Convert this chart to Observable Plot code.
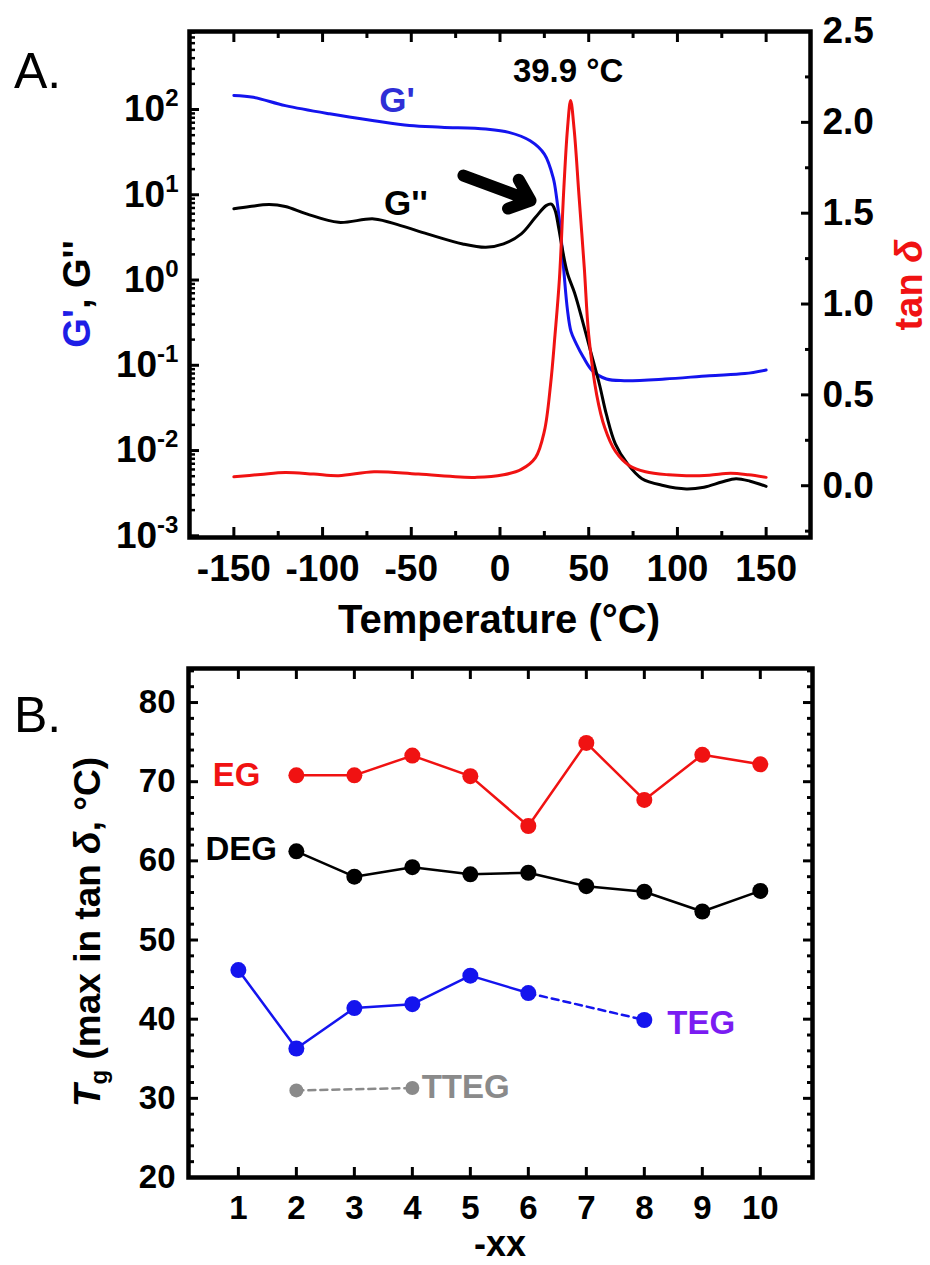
<!DOCTYPE html>
<html><head><meta charset="utf-8">
<script src="https://cdn.jsdelivr.net/npm/d3@7"></script>
<script src="https://cdn.jsdelivr.net/npm/@observablehq/plot@0.6"></script>
<style>
body{margin:0;background:#fff;}
#wrap{position:relative;width:930px;height:1265px;overflow:hidden;background:#fff;font-family:"Liberation Sans",Arial,sans-serif;}
.layer{position:absolute;left:0;}
.layer svg{display:block;}
</style></head><body><div id="wrap"></div>
<script>
// ---------- Panel A data ----------
const gpT  = [-150,-139,-121,-96,-71,-51,-33,-8,5,17,25,30,32,34,36,38,40,43,47,52,60,70,93,118,138,150];
const gpV  = [146,139,111,89,74,65,62,59,54,43,30,15.8,8.9,4.0,1.26,0.45,0.25,0.178,0.124,0.0865,0.069,0.066,0.069,0.0755,0.080,0.088];
const gppT = [-150,-141,-130,-121,-109,-91,-71,-56,-41,-21,-8,2,12,20,26,29,31,33,35,38,42,46,51,56,60,65,72,80,92,105,115,125,133,141,150];
const gppV = [6.84,7.28,7.67,7.28,5.97,4.75,5.21,4.35,3.48,2.65,2.42,2.65,3.48,5.44,7.46,7.76,6.61,4.17,2.40,1.20,0.708,0.363,0.148,0.0603,0.0263,0.0120,0.00692,0.00468,0.00389,0.00355,0.00372,0.00427,0.00468,0.00437,0.00380];
const tanT = [-150,-135,-121,-105,-91,-71,-46,-13,2,12,20,25,28.5,31,33.5,36,38,39.8,41.8,44.5,47.5,50,54.5,59,65,73,82,95,105,118,130,140,150];
const tanV = [0.049,0.062,0.073,0.064,0.055,0.077,0.064,0.046,0.06,0.09,0.155,0.30,0.557,0.83,1.14,1.64,1.96,2.12,1.96,1.6,1.2,0.83,0.5,0.32,0.19,0.11,0.077,0.06,0.055,0.058,0.068,0.06,0.046];
const tempTicks = [-150,-100,-50,0,50,100,150];
const tempMinor = [-125,-75,-25,25,75,125];
const modTicks = [1e-3,1e-2,1e-1,1,10,100];
const tanTicks = [0,0.5,1.0,1.5,2.0,2.5];
const tanMinor = [-0.25,0.25,0.75,1.25,1.75,2.25];
const peakLabel = ["39.9 °C"]; const peakT = [38.4]; const peakG = [279];
const arrowT = [-20.6, 17.2]; const arrowG = [16.8, 8.55];
const gpLabel = {t:-58, g:128, s:"G'"};
const gppLabel = {t:-53, g:7.9, s:"G''"};

// ---------- Panel B data ----------
const egX  = [2,3,4,5,6,7,8,9,10];
const egY  = [70.8,70.8,73.3,70.7,64.4,74.9,67.7,73.4,72.2];
const degX = [2,3,4,5,6,7,8,9,10];
const degY = [61.2,58.0,59.2,58.3,58.5,56.8,56.1,53.6,56.2];
const tegX = [1,2,3,4,5,6,8];
const tegY = [46.2,36.3,41.4,41.9,45.5,43.3,39.9];
const ttegX = [2,4];
const ttegY = [31.0,31.3];
const xxTicks = [1,2,3,4,5,6,7,8,9,10];
const tgTicks = [20,30,40,50,60,70,80];
const seriesNames = ["EG","DEG","TEG","TTEG"];
const seriesLabelX = [0.97,1.05,8.98,4.16];
const seriesLabelY = [70.8,61.4,39.5,31.4];

const FONT = '"Liberation Sans", Arial, sans-serif';
const RED = "#f01212", BLUE = "#1414ee", BLK = "#000", GRAY = "#8a8a8a", PURPLE = "#7a1cf2";
const wrap = document.getElementById("wrap");
function layer(top){const d=document.createElement("div");d.className="layer";d.style.top=top+"px";wrap.appendChild(d);return d;}

const rows = (xs, ys) => xs.map((x,i)=>({x, y: ys[i]}));
const gp = rows(gpT,gpV), gpp = rows(gppT,gppV), tan = rows(tanT,tanV);

// log minor ticks
const logMinor = [];
for (let k=-3;k<=2;k++) for (let m=2;m<=9;m++) logMinor.push(m*Math.pow(10,k));

const xDomA = [-175,175];
const yDomA = [Math.pow(10,-3.02), Math.pow(10,2.915)];
const dimsA = {width:930,height:650,marginLeft:189,marginRight:120,marginTop:31,marginBottom:113};

const plotA = Plot.plot({
  ...dimsA,
  style:{fontFamily:FONT, background:"transparent", overflow:"visible"},
  x:{domain:xDomA, axis:null},
  y:{type:"log", domain:yDomA, axis:null},
  marks:[
    Plot.line(gp,{x:"x",y:"y",stroke:BLUE,strokeWidth:3,curve:"catmull-rom"}),
    Plot.line(gpp,{x:"x",y:"y",stroke:BLK,strokeWidth:3,curve:"catmull-rom"}),
    Plot.arrow([{x1:arrowT[0],y1:arrowG[0],x2:arrowT[1],y2:arrowG[1]}],{x1:"x1",y1:"y1",x2:"x2",y2:"y2",stroke:BLK,strokeWidth:12,headAngle:80,headLength:10}),
    Plot.text([gpLabel],{x:"t",y:"g",text:"s",fill:"#2f2fd6",fontSize:35,fontWeight:"bold"}),
    Plot.text([gppLabel],{x:"t",y:"g",text:"s",fill:BLK,fontSize:35,fontWeight:"bold"}),
    Plot.text(peakLabel.map((s,i)=>({s,t:peakT[i],g:peakG[i]})),{x:"t",y:"g",text:"s",fill:BLK,fontSize:33,fontWeight:"bold"}),
    Plot.axisX(tempTicks,{anchor:"bottom",tickSize:-10,strokeWidth:3,fill:"none",label:null}),
    Plot.axisX(tempMinor,{anchor:"bottom",tickSize:-6,strokeWidth:3,fill:"none",label:null}),
    Plot.axisX(tempTicks,{anchor:"top",tickSize:-10,strokeWidth:3,fill:"none",label:null}),
    Plot.axisX(tempMinor,{anchor:"top",tickSize:-6,strokeWidth:3,fill:"none",label:null}),
    Plot.axisX(tempTicks,{anchor:"bottom",tickSize:0,tickPadding:17,fontSize:37,fontWeight:"bold",tickFormat:d=>String(d),label:null}),
    Plot.axisY(modTicks,{anchor:"left",tickSize:-10,strokeWidth:3,fill:"none",label:null}),
    Plot.axisY(logMinor.filter(v=>v>yDomA[0]&&v<yDomA[1]),{anchor:"left",tickSize:-6,strokeWidth:2.5,fill:"none",label:null}),
    Plot.axisY(modTicks,{anchor:"left",tickSize:0,tickPadding:11,fontSize:37,fontWeight:"bold",tickFormat:d=>String(Math.round(Math.log10(d))),label:null}),
    Plot.frame({stroke:BLK,strokeWidth:4.5})
  ]
});
const plotA2 = Plot.plot({
  ...dimsA,
  style:{fontFamily:FONT, background:"transparent", overflow:"visible"},
  x:{domain:xDomA, axis:null},
  y:{domain:[-0.285,2.5], axis:null},
  marks:[
    Plot.line(tan,{x:"x",y:"y",stroke:RED,strokeWidth:3,curve:"catmull-rom"}),
    Plot.axisY(tanTicks,{anchor:"right",tickSize:-10,strokeWidth:3,fill:"none",label:null}),
    Plot.axisY(tanMinor,{anchor:"right",tickSize:-6,strokeWidth:3,fill:"none",label:null}),
    Plot.axisY(tanTicks,{anchor:"right",tickSize:0,tickPadding:12,fontSize:37,fontWeight:"bold",tickFormat:d3.format(".1f"),label:null})
  ]
});
const lA = layer(0); lA.appendChild(plotA);
const lA2 = layer(0); lA2.appendChild(plotA2);

// superscript exponents on the log axis
d3.select(plotA).selectAll('g[aria-label="y-axis tick label"] text').each(function(){
  const e = this.textContent; const s = d3.select(this);
  s.text("10"); s.append("tspan").attr("dy","-0.62em").attr("font-size","0.65em").text(e);
});

const sA = d3.select(plotA);
const yl = sA.append("text").attr("transform","translate(90,294) rotate(-90)").attr("text-anchor","middle")
  .attr("font-size",38).attr("font-weight","bold").attr("font-family",FONT);
yl.append("tspan").attr("fill","#1e1ee6").text("G'");
yl.append("tspan").attr("fill",BLK).text(", G''");
sA.append("text").attr("x",499).attr("y",633).attr("text-anchor","middle").attr("font-size",40)
  .attr("font-weight","bold").attr("font-family",FONT).text("Temperature (°C)");
sA.append("text").attr("x",14).attr("y",88).attr("text-anchor","start").attr("font-size",50).attr("font-family",FONT).text("A.");
const sA2 = d3.select(plotA2);
const tl = sA2.append("text").attr("transform","translate(922,285) rotate(-90)").attr("text-anchor","middle")
  .attr("font-size",38).attr("font-weight","bold").attr("font-family",FONT).attr("fill",RED);
tl.append("tspan").text("tan ");
tl.append("tspan").attr("font-style","italic").text("δ");

// ---------- Panel B ----------
const eg = rows(egX,egY), deg = rows(degX,degY), teg = rows(tegX,tegY), tteg = rows(ttegX,ttegY);
const tgMinor = d3.range(22,85,2).filter(v=>v%10!==0);
const labels = seriesNames.map((s,i)=>({s,x:seriesLabelX[i],y:seriesLabelY[i]}));
const plotB = Plot.plot({
  width:930,height:615,marginLeft:188,marginRight:118,marginTop:18,marginBottom:88,
  style:{fontFamily:FONT, background:"transparent", overflow:"visible"},
  x:{domain:[0.14,10.9], axis:null},
  y:{domain:[20,84.3], axis:null},
  marks:[
    Plot.line(eg,{x:"x",y:"y",stroke:RED,strokeWidth:2.5}),
    Plot.line(deg,{x:"x",y:"y",stroke:BLK,strokeWidth:2.5}),
    Plot.line(teg.slice(0,6),{x:"x",y:"y",stroke:BLUE,strokeWidth:2.5}),
    Plot.line(teg.slice(5),{x:"x",y:"y",stroke:BLUE,strokeWidth:2.5,strokeDasharray:"7,5"}),
    Plot.line(tteg,{x:"x",y:"y",stroke:GRAY,strokeWidth:2.5,strokeDasharray:"7,5"}),
    Plot.dot(eg,{x:"x",y:"y",r:8,fill:RED}),
    Plot.dot(deg,{x:"x",y:"y",r:8,fill:BLK}),
    Plot.dot(teg,{x:"x",y:"y",r:8,fill:BLUE}),
    Plot.dot(tteg,{x:"x",y:"y",r:7,fill:GRAY}),
    Plot.text(labels.slice(0,2),{x:"x",y:"y",text:"s",fill:d=>d.s==="EG"?RED:BLK,fontSize:33,fontWeight:"bold"}),
    Plot.text(labels.slice(2,3),{x:"x",y:"y",text:"s",fill:PURPLE,fontSize:33,fontWeight:"bold"}),
    Plot.text(labels.slice(3),{x:"x",y:"y",text:"s",fill:GRAY,fontSize:33,fontWeight:"bold",textAnchor:"start"}),
    Plot.axisX(xxTicks,{anchor:"bottom",tickSize:-10,strokeWidth:3,fill:"none",label:null}),
    Plot.axisX(xxTicks,{anchor:"top",tickSize:-10,strokeWidth:3,fill:"none",label:null}),
    Plot.axisX(xxTicks,{anchor:"bottom",tickSize:0,tickPadding:18,fontSize:33,fontWeight:"bold",tickFormat:d=>String(d),label:null}),
    Plot.axisY(tgTicks,{anchor:"left",tickSize:-10,strokeWidth:3,fill:"none",label:null}),
    Plot.axisY(tgMinor,{anchor:"left",tickSize:-6,strokeWidth:3,fill:"none",label:null}),
    Plot.axisY(tgTicks,{anchor:"right",tickSize:-10,strokeWidth:3,fill:"none",label:null}),
    Plot.axisY(tgMinor,{anchor:"right",tickSize:-6,strokeWidth:3,fill:"none",label:null}),
    Plot.axisY(tgTicks,{anchor:"left",tickSize:0,tickPadding:13,fontSize:33,fontWeight:"bold",tickFormat:d=>String(d),label:null}),
    Plot.frame({stroke:BLK,strokeWidth:4.5})
  ]
});
const lB = layer(650); lB.appendChild(plotB);
const sB = d3.select(plotB);
sB.append("text").attr("x",14).attr("y",82).attr("text-anchor","start").attr("font-size",50).attr("font-family",FONT).text("B.");
const bl = sB.append("text").attr("transform","translate(100,282) rotate(-90)").attr("text-anchor","middle")
  .attr("font-size",37).attr("font-weight","bold").attr("font-family",FONT).attr("fill",BLK);
bl.append("tspan").attr("font-style","italic").text("T");
bl.append("tspan").attr("font-size","0.65em").attr("dy","0.3em").text("g");
bl.append("tspan").attr("dy","-0.2em").text(" (max in tan ");
bl.append("tspan").attr("font-style","italic").text("δ");
bl.append("tspan").text(", °C)");
sB.append("text").attr("x",500).attr("y",606).attr("text-anchor","middle").attr("font-size",36)
  .attr("font-weight","bold").attr("font-family",FONT).text("-xx");
</script></body></html>
